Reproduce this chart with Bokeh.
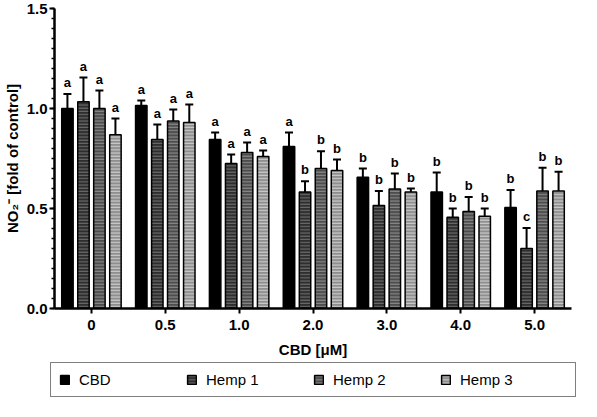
from bokeh.plotting import figure
from bokeh.layouts import column
from bokeh.models import (ColumnDataSource, FactorRange, Range1d, Whisker, TeeHead,
                          Legend, LegendItem, SingleIntervalTicker, NumeralTickFormatter)
from bokeh.transform import dodge
from bokeh.core.properties import value
from bokeh.embed import file_html
from bokeh.resources import INLINE

# ---- data ----
groups = ["0", "0.5", "1.0", "2.0", "3.0", "4.0", "5.0"]
cbd = [1.00, 1.015, 0.845, 0.81, 0.656, 0.583, 0.505]
cbd_err = [0.073, 0.025, 0.035, 0.07, 0.044, 0.097, 0.087]
hemp1 = [1.034, 0.845, 0.725, 0.583, 0.515, 0.456, 0.30]
hemp1_err = [0.121, 0.075, 0.045, 0.053, 0.072, 0.044, 0.103]
hemp2 = [1.0, 0.937, 0.78, 0.70, 0.597, 0.485, 0.587]
hemp2_err = [0.09, 0.058, 0.05, 0.086, 0.078, 0.073, 0.117]
hemp3 = [0.869, 0.93, 0.76, 0.69, 0.583, 0.461, 0.587]
hemp3_err = [0.081, 0.09, 0.03, 0.055, 0.017, 0.039, 0.097]
cbd_sig = ["a", "a", "a", "a", "b", "b", "b"]
hemp1_sig = ["a", "a", "a", "b", "b", "b", "c"]
hemp2_sig = ["a", "a", "a", "b", "b", "b", "b"]
hemp3_sig = ["a", "a", "a", "b", "b", "b", "b"]
series_names = ["CBD", "Hemp 1", "Hemp 2", "Hemp 3"]

series = [
    ("cbd", cbd, cbd_err, cbd_sig),
    ("hemp1", hemp1, hemp1_err, hemp1_sig),
    ("hemp2", hemp2, hemp2_err, hemp2_sig),
    ("hemp3", hemp3, hemp3_err, hemp3_sig),
]

data = {"group": groups}
for key, vals, errs, sig in series:
    data[key] = vals
    data[key + "_upper"] = [v + e for v, e in zip(vals, errs)]
    data[key + "_sig"] = sig
src = ColumnDataSource(data)

FONT = "Liberation Sans"

p = figure(width=581, height=360, x_range=FactorRange(*groups, range_padding=0),
           y_range=Range1d(0, 1.5), output_backend="svg", toolbar_location=None,
           min_border_left=2, min_border_right=10, min_border_top=8, min_border_bottom=2)
p.frame_align = False
p.outline_line_color = None
p.xgrid.grid_line_color = None
p.ygrid.grid_line_color = None

offsets = [-0.325, -0.108, 0.108, 0.325]
fills = ["#000000", "#2e2e2e", "#4d4d4d", "#8e8e8e"]
hatches = [None, "#6e6e6e", "#8c8c8c", "#cfcfcf"]


def bar_style(fc, hc):
    kw = dict(fill_color=fc, line_color="black", line_width=1.5)
    if hc is not None:
        kw.update(hatch_pattern="horizontal_line", hatch_color=hc, hatch_scale=3.2, hatch_weight=1.1)
    return kw


for (key, vals, errs, sig), off, fc, hc in zip(series, offsets, fills, hatches):
    p.vbar(x=dodge("group", off, range=p.x_range), top=key, width=0.155, source=src,
           **bar_style(fc, hc))
    w = Whisker(source=src, base=dodge("group", off, range=p.x_range), upper=key + "_upper",
                lower=key, dimension="height", line_width=2, line_color="black",
                upper_head=TeeHead(size=8, line_width=2, line_color="black"), lower_head=None)
    p.add_layout(w)
    p.text(x=dodge("group", off, range=p.x_range), y=key + "_upper", text=key + "_sig",
           source=src, text_align="center", text_baseline="bottom", y_offset=-4,
           text_font=value(FONT), text_font_size="13px", text_font_style="bold",
           text_color="black")

# axes
p.yaxis.ticker = SingleIntervalTicker(interval=0.5, num_minor_ticks=10)
p.yaxis.formatter = NumeralTickFormatter(format="0.0")
p.yaxis.axis_label = "NO\u2082\u207b [fold of control]"
for ax in (p.xaxis, p.yaxis):
    ax.axis_line_width = 2.5
    ax.axis_line_color = "black"
    ax.major_tick_line_width = 2
    ax.major_tick_line_color = "black"
    ax.major_tick_out = 5
    ax.major_tick_in = 0
    ax.major_label_text_font = FONT
    ax.major_label_text_font_style = "bold"
    ax.major_label_text_font_size = "15px"
    ax.major_label_text_color = "black"
    ax.axis_label_text_font = FONT
    ax.axis_label_text_font_style = "bold"
    ax.axis_label_text_font_size = "15px"
    ax.axis_label_text_color = "black"
p.yaxis.minor_tick_line_width = 1.5
p.yaxis.minor_tick_line_color = "black"
p.yaxis.minor_tick_out = 3
p.yaxis.minor_tick_in = 0
p.yaxis.major_label_standoff = 2
p.yaxis.axis_label_standoff = 3
p.xaxis.major_label_standoff = 6
p.xaxis.axis_label = "CBD [\u03bcM]"
p.xaxis.axis_label_standoff = 8

# legend strip: same series as hidden renderers, only the legend shows
lg = figure(width=581, height=41, x_range=p.x_range, y_range=Range1d(10, 11),
            output_backend="svg", toolbar_location=None,
            min_border_left=0, min_border_right=0, min_border_top=0, min_border_bottom=0)
lg.frame_align = False
lg.axis.visible = False
lg.xgrid.grid_line_color = None
lg.ygrid.grid_line_color = None
lg.outline_line_color = None
leg_items = []
for (key, vals, errs, sig), name, off, fc, hc in zip(series, series_names, offsets, fills, hatches):
    r = lg.vbar(x=dodge("group", off, range=p.x_range), top=key, width=0.155, source=src,
                **bar_style(fc, hc))
    r.visible = False
    leg_items.append(LegendItem(label=name, renderers=[r]))
legend = Legend(items=leg_items, orientation="horizontal", location=(50, 4),
                border_line_color="black", border_line_width=1.5,
                label_text_font=FONT, label_text_font_size="15px", label_text_color="black",
                glyph_width=11, glyph_height=11, label_standoff=9, label_width=107,
                padding=8, spacing=0, margin=0, inactive_fill_alpha=0)
lg.add_layout(legend)

open("out.html", "w").write(file_html(column(p, lg, spacing=0), INLINE))
